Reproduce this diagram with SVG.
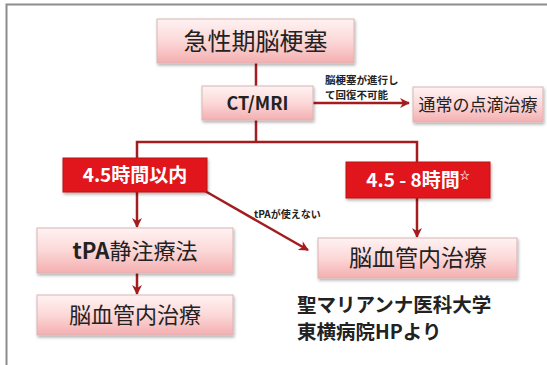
<svg xmlns="http://www.w3.org/2000/svg" width="547" height="365" viewBox="0 0 547 365">
<defs>
<linearGradient id="pink" x1="0" y1="0" x2="0" y2="1">
<stop offset="0" stop-color="#fff2f2"/>
<stop offset="0.5" stop-color="#fcd8d8"/>
<stop offset="1" stop-color="#f4aeb0"/>
</linearGradient>
<filter id="sh" x="-10%" y="-10%" width="120%" height="130%">
<feDropShadow dx="1" dy="2" stdDeviation="1.5" flood-color="#000" flood-opacity="0.3"/>
</filter>
<marker id="arr" viewBox="0 0 10 10" refX="9" refY="5" markerWidth="4" markerHeight="4" orient="auto" markerUnits="strokeWidth">
<path d="M0,0 L10,5 L0,10 L3,5 Z" fill="#a31c1f"/>
</marker>
</defs>
<style>
.pbox{fill:url(#pink);stroke:#d9b5b5;stroke-width:1;filter:url(#sh)}
.rbox{fill:#e0161c;stroke:#b81216;stroke-width:1;filter:url(#sh)}
.t{font-family:"Noto Sans CJK JP","Noto Sans",sans-serif;fill:#222;text-anchor:middle}
.w{font-family:"Noto Sans CJK JP","Noto Sans",sans-serif;fill:#fff;font-weight:bold;text-anchor:middle}
.s{font-family:"Noto Sans CJK JP","Noto Sans",sans-serif;fill:#222;font-weight:bold}
.ln{stroke:#a31c1f;stroke-width:2.5;fill:none}
</style>
<rect x="0" y="0" width="547" height="365" fill="#fff"/>
<path d="M6.5,365 V4.5 H547" fill="none" stroke="#8c8c8c" stroke-width="2"/>
<g id="connectors">
<path class="ln" d="M256,63 V86"/>
<path class="ln" d="M313,103 H409" marker-end="url(#arr)"/>
<path class="ln" d="M256,120 V142 M137,158 V142 H417 V162"/>
<path class="ln" d="M137,192 V227" marker-end="url(#arr)"/>
<path class="ln" d="M137,273 V294" marker-end="url(#arr)"/>
<path class="ln" d="M417,198 V237" marker-end="url(#arr)"/>
<path class="ln" d="M205,191 L308,250" marker-end="url(#arr)"/>
</g>
<g id="lbl-progress">
<text class="s" x="325" y="84" font-size="10.5" font-weight="normal">脳梗塞が進行し</text>
<text class="s" x="325" y="99" font-size="10.5" font-weight="normal">て回復不可能</text>
</g>
<g id="lbl-notpa">
<text class="s" x="254" y="218" font-size="10" font-weight="normal">tPAが使えない</text>
</g>
<g id="n-acute">
<rect class="pbox" x="157" y="19" width="197" height="44"/>
<text class="t" x="255.5" y="50" font-size="24">急性期脳梗塞</text>
</g>
<g id="n-ctmri">
<rect class="pbox" x="202" y="86" width="111" height="34"/>
<text class="t" x="257.5" y="110" font-size="18" font-weight="bold" font-family="'Open Sans','Noto Sans',sans-serif">CT/MRI</text>
</g>
<g id="n-drip">
<rect class="pbox" x="413" y="87" width="130" height="35"/>
<text class="t" x="478" y="111" font-size="17">通常の点滴治療</text>
</g>
<g id="n-45">
<rect class="rbox" x="63" y="158" width="144" height="34"/>
<text class="w" x="135" y="182" font-size="19">4.5時間以内</text>
</g>
<g id="n-458">
<rect class="rbox" x="346" y="162" width="144" height="36"/>
<text class="w" x="418" y="187" font-size="19">4.5 - 8時間<tspan font-size="10" dy="-8">☆</tspan></text>
</g>
<g id="n-tpa">
<rect class="pbox" x="37" y="228" width="196" height="45"/>
<text class="t" x="135" y="259" font-size="22"><tspan font-weight="bold">tPA</tspan>静注療法</text>
</g>
<g id="n-endo-left">
<rect class="pbox" x="37" y="295" width="196" height="40"/>
<text class="t" x="135" y="323" font-size="22">脳血管内治療</text>
</g>
<g id="n-endo-right">
<rect class="pbox" x="318" y="238" width="199" height="40"/>
<text class="t" x="418" y="266" font-size="23">脳血管内治療</text>
</g>
<g id="credit">
<text class="s" x="297" y="312" font-size="19.5">聖マリアンナ医科大学</text>
<text class="s" x="297" y="339" font-size="19.5">東横病院HPより</text>
</g>
</svg>
